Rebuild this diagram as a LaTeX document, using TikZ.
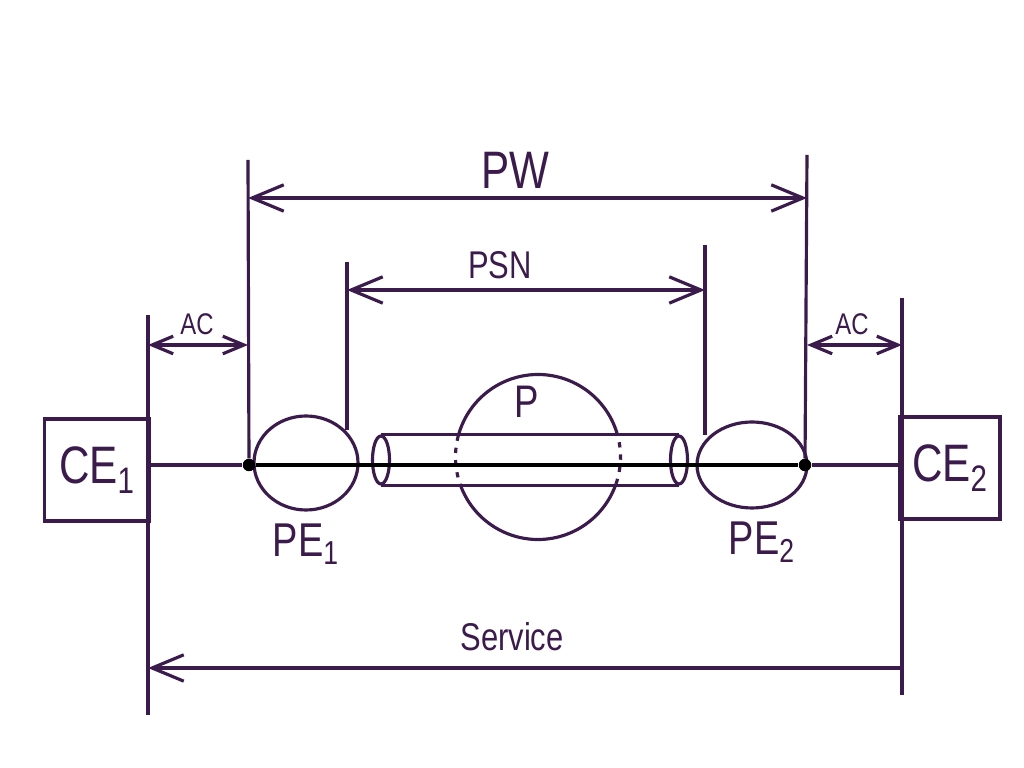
\documentclass[tikz,border=0pt]{standalone}
\usepackage{fontspec}
\setmainfont{Liberation Sans}[FakeStretch=0.8]
\usepackage{xcolor}
\usepackage{tikz}
\usetikzlibrary{positioning,arrows.meta,shapes.geometric}
\definecolor{inkColor}{HTML}{3B1A4C}

\begin{document}
\begin{tikzpicture}[
    x=0.2mm, y=0.2mm,
    ink/.style={draw=inkColor, line width=1.8pt},
    dev/.style={ink, rectangle, minimum width=21mm, minimum height=20.4mm, inner sep=0pt, text=inkColor, font=\fontsize{30}{32}\selectfont},
    router/.style={ink, ellipse, inner sep=0pt},
    lbl/.style={text=inkColor, inner sep=1pt},
    dim/.style={inkColor, line width=1.8pt, {Straight Barb[length=18pt,width=15pt]}-{Straight Barb[length=18pt,width=15pt]}},
    dimsmall/.style={inkColor, line width=1.8pt, {Straight Barb[length=12pt,width=10pt]}-{Straight Barb[length=12pt,width=10pt]}},
    dot/.style={circle, fill=black, minimum size=2.5mm, inner sep=0pt}
  ]
  \useasboundingbox (0,0) rectangle (1024,-768);

  % devices
  \node[dev] (ce1) at (97,-470) {CE\textsubscript{1}};
  \node[dev, minimum width=20mm] (ce2) at (950,-468) {CE\textsubscript{2}};
  \node[router, minimum width=20.8mm, minimum height=18.8mm] (pe1) at (306,-463) {};
  \node[router, minimum width=22mm, minimum height=17.2mm] (pe2) at (752,-465) {};
  \node[circle, minimum size=33mm, inner sep=0pt, outer sep=0pt] (p) at (538,-457) {};
  \node[dot] (dotL) at (249,-465) {};
  \node[dot] (dotR) at (805,-465) {};

  \node[lbl, font=\fontsize{27}{29}\selectfont, below=2mm of pe1] (pe1Lbl) {PE\textsubscript{1}};
  \node[lbl, font=\fontsize{27}{29}\selectfont, below=2mm of pe2, xshift=2mm] (pe2Lbl) {PE\textsubscript{2}};
  \node[lbl, font=\fontsize{26}{28}\selectfont] (pLbl) at (527,-402) {P};

  % tunnel
  \node[router, minimum width=3.4mm, minimum height=9.6mm] (tubeL) at (381,-460) {};
  \node[router, minimum width=3.4mm, minimum height=9.6mm] (tubeR) at (679,-460) {};
  \draw[ink] (tubeL.north) -- (tubeR.north);
  \draw[ink] (tubeL.south) -- (tubeR.south);

  \draw[ink] (p.15) arc[start angle=15, end angle=165, radius=16.5mm];
  \draw[ink] (p.199) arc[start angle=199, end angle=341, radius=16.5mm];
  \draw[ink, dash pattern=on 3pt off 4pt] (p.-19) arc[start angle=-19, end angle=15, radius=16.5mm];
  \draw[ink, dash pattern=on 3pt off 4pt] (p.165) arc[start angle=165, end angle=199, radius=16.5mm];

  \draw[ink] (ce1.east |- dotL) -- (dotL);
  \draw[black, line width=1.8pt] (dotL) -- (dotR);
  \draw[ink] (dotR) -- (ce2.west |- dotR);

  % extension lines
  \coordinate (extA1) at (148,-315); \coordinate (extA2) at (148,-715);
  \coordinate (extB1) at (248,-160);
  \coordinate (extC1) at (347,-262); \coordinate (extC2) at (347,-430);
  \coordinate (extD1) at (705,-245); \coordinate (extD2) at (705,-435);
  \coordinate (extE1) at (807,-155);
  \coordinate (extF1) at (902,-298); \coordinate (extF2) at (902,-695);
  \draw[ink] (extA1) -- (extA2);
  \draw[ink] (extB1) -- (dotL);
  \draw[ink] (extC1) -- (extC2);
  \draw[ink] (extD1) -- (extD2);
  \draw[ink] (extE1) -- (dotR);
  \draw[ink] (extF1) -- (extF2);

  \coordinate (pwL) at (248,-198); \coordinate (pwR) at (807,-198);
  \coordinate (psnL) at (347,-290); \coordinate (psnR) at (705,-290);
  \coordinate (acL1) at (148,-345); \coordinate (acR1) at (248,-345);
  \coordinate (acL2) at (807,-345); \coordinate (acR2) at (902,-345);
  \coordinate (svcL) at (148,-668); \coordinate (svcR) at (902,-668);

  \draw[dim] (pwL) -- (pwR);
  \draw[dim] (psnL) -- (psnR);
  \draw[dimsmall] (acL1) -- (acR1);
  \draw[dimsmall] (acL2) -- (acR2);
  \draw[inkColor, line width=1.8pt, -{Straight Barb[length=18pt,width=15pt]}] (svcR) -- (svcL);

  \node[lbl, font=\fontsize{30}{32}\selectfont] (pwLbl) at (515,-170) {PW};
  \node[lbl, font=\fontsize{22}{24}\selectfont] (psnLbl) at (500,-265) {PSN};
  \node[lbl, font=\fontsize{17}{19}\selectfont] (acLbl1) at (197,-324) {AC};
  \node[lbl, font=\fontsize{17}{19}\selectfont] (acLbl2) at (852,-324) {AC};
  \node[lbl, font=\fontsize{22}{24}\selectfont] (svcLbl) at (512,-637) {Service};
\end{tikzpicture}
\end{document}
